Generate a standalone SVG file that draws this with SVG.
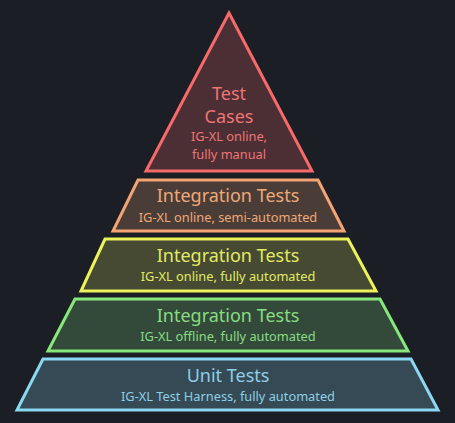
<svg xmlns="http://www.w3.org/2000/svg" width="455" height="423" viewBox="0 0 455 423">
<style>
.t{font-family:"Noto Sans","DejaVu Sans",sans-serif;text-anchor:middle}
.h{font-size:18px}
.s{font-size:12.8px}
.shape{stroke-width:3;stroke-linejoin:miter}
</style>
<rect width="455" height="423" fill="#1b1e24"/>
<g id="test-cases">
<polygon class="shape" points="229,13 312,171 146,171" fill="#4b2f35" stroke="#f86a6a"/>
<text class="t h" x="229" y="100" fill="#ef7474">Test</text>
<text class="t h" x="229" y="123" fill="#ef7474">Cases</text>
<text class="t s" x="229" y="141" fill="#ef7474">IG-XL online,</text>
<text class="t s" x="229" y="158.5" fill="#ef7474">fully manual</text>
</g>
<g id="integration-semi">
<polygon class="shape" points="138,180 318,180 344,231 113,231" fill="#4a3d37" stroke="#f4a474"/>
<text class="t h" x="228" y="202" fill="#f0a878">Integration Tests</text>
<text class="t s" x="228" y="222" fill="#f0a878">IG-XL online, semi-automated</text>
</g>
<g id="integration-online">
<polygon class="shape" points="105,239 348,239 376,291 81,291" fill="#474a33" stroke="#ecf25a"/>
<text class="t h" x="228" y="262" fill="#e2ea62">Integration Tests</text>
<text class="t s" x="228" y="281" fill="#e2ea62">IG-XL online, fully automated</text>
</g>
<g id="integration-offline">
<polygon class="shape" points="75,299 380,299 408,351 48,351" fill="#334a3a" stroke="#86e87a"/>
<text class="t h" x="228" y="322" fill="#88dc82">Integration Tests</text>
<text class="t s" x="228" y="341" fill="#88dc82">IG-XL offline, fully automated</text>
</g>
<g id="unit-tests">
<polygon class="shape" points="43,359 411,359 438,410 17,410" fill="#364a55" stroke="#8ad8f2"/>
<text class="t h" x="228" y="382" fill="#8ccfe6">Unit Tests</text>
<text class="t s" x="228" y="401" fill="#8ccfe6">IG-XL Test Harness, fully automated</text>
</g>
<g id="connectors"/>
</svg>
